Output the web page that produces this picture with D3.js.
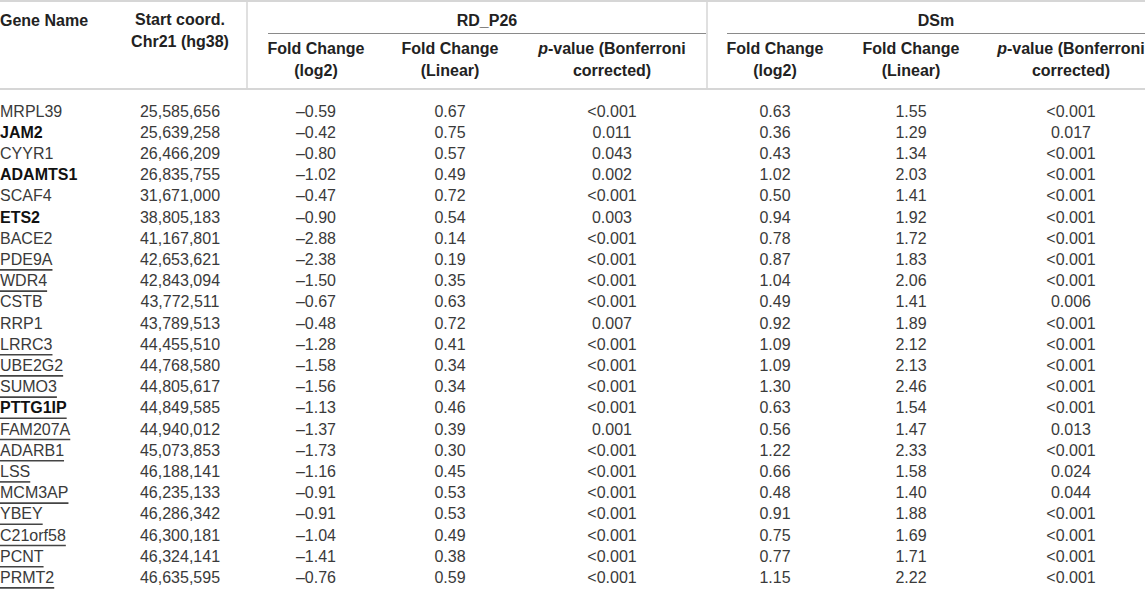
<!DOCTYPE html>
<html>
<head>
<meta charset="utf-8">
<script src="https://cdn.jsdelivr.net/npm/d3@7"></script>
<style>
  body { margin: 0; background: #fff; }
  svg { display: block; font-family: "Liberation Sans", Arial, sans-serif; }
</style>
</head>
<body>
<svg id="tbl" width="1145" height="594"></svg>
<script>
/*
 gene expression table: RD_P26 vs DSm
*/

const genes = ["MRPL39", "JAM2", "CYYR1", "ADAMTS1", "SCAF4", "ETS2", "BACE2", "PDE9A",
    "WDR4", "CSTB", "RRP1", "LRRC3", "UBE2G2", "SUMO3", "PTTG1IP", "FAM207A", "ADARB1",
    "LSS", "MCM3AP", "YBEY", "C21orf58", "PCNT", "PRMT2"];
const startCoords = [25585656, 25639258, 26466209, 26835755, 31671000, 38805183, 41167801,
    42653621, 42843094, 43772511, 43789513, 44455510, 44768580, 44805617, 44849585,
    44940012, 45073853, 46188141, 46235133, 46286342, 46300181, 46324141, 46635595];
const rdLog2 = [-0.59, -0.42, -0.80, -1.02, -0.47, -0.90, -2.88, -2.38, -1.50, -0.67, -0.48,
    -1.28, -1.58, -1.56, -1.13, -1.37, -1.73, -1.16, -0.91, -0.91, -1.04, -1.41, -0.76];
const rdLinear = [0.67, 0.75, 0.57, 0.49, 0.72, 0.54, 0.14, 0.19, 0.35, 0.63, 0.72, 0.41,
    0.34, 0.34, 0.46, 0.39, 0.30, 0.45, 0.53, 0.53, 0.49, 0.38, 0.59];
const rdP = ["<0.001", "0.011", "0.043", "0.002", "<0.001", "0.003", "<0.001", "<0.001",
    "<0.001", "<0.001", "0.007", "<0.001", "<0.001", "<0.001", "<0.001", "0.001", "<0.001",
    "<0.001", "<0.001", "<0.001", "<0.001", "<0.001", "<0.001"];
const dsLog2 = [0.63, 0.36, 0.43, 1.02, 0.50, 0.94, 0.78, 0.87, 1.04, 0.49, 0.92, 1.09, 1.09,
    1.30, 0.63, 0.56, 1.22, 0.66, 0.48, 0.91, 0.75, 0.77, 1.15];
const dsLinear = [1.55, 1.29, 1.34, 2.03, 1.41, 1.92, 1.72, 1.83, 2.06, 1.41, 1.89, 2.12,
    2.13, 2.46, 1.54, 1.47, 2.33, 1.58, 1.40, 1.88, 1.69, 1.71, 2.22];
const dsP = ["<0.001", "0.017", "<0.001", "<0.001", "<0.001", "<0.001", "<0.001", "<0.001",
    "<0.001", "0.006", "<0.001", "<0.001", "<0.001", "<0.001", "<0.001", "0.013", "<0.001",
    "0.024", "0.044", "<0.001", "<0.001", "<0.001", "<0.001"];
const boldGenes = ["JAM2", "ADAMTS1", "ETS2", "PTTG1IP"];
const underlinedGenes = ["PDE9A", "WDR4", "LRRC3", "UBE2G2", "SUMO3", "PTTG1IP", "FAM207A",
    "ADARB1", "LSS", "MCM3AP", "YBEY", "C21orf58", "PCNT", "PRMT2"];

const groups = ["RD_P26", "DSm"];
const subHeaders = [["Fold Change", "(log2)"], ["Fold Change", "(Linear)"], ["p-value (Bonferroni", "corrected)"]];

const W = 1145, H = 594;
const font_size = 16;
const data_color = "#3a3a3a";
const line_light = "#d6d6d6";

const colKeys = ["start", "rdLog2", "rdLinear", "rdP", "dsLog2", "dsLinear", "dsP"];
const xcol = d3.scaleOrdinal()
    .domain(colKeys)
    .range([180, 316, 450, 612, 775, 911, 1071]);
const xgroup = d3.scaleOrdinal()
    .domain(groups)
    .range([[268, 706], [727, 1145]]);
const yrow = d3.scalePoint()
    .domain(genes)
    .range([111, 111 + 21.2 * (genes.length - 1)]);

const fmtCoord = d3.format(",");
const fmt2 = v => d3.format(".2f")(v).replace("−", "–").replace("-", "–");

const rows = genes.map((g, i) => ({
    gene: g,
    start: fmtCoord(startCoords[i]),
    rdLog2: fmt2(rdLog2[i]),
    rdLinear: fmt2(rdLinear[i]),
    rdP: rdP[i],
    dsLog2: fmt2(dsLog2[i]),
    dsLinear: fmt2(dsLinear[i]),
    dsP: dsP[i],
}));

const svg = d3.select("#tbl");

// rules
svg.append("line")
    .attr("x1", 0).attr("x2", W).attr("y1", 1).attr("y2", 1)
    .attr("stroke", line_light).attr("stroke-width", 2);
svg.append("line")
    .attr("x1", 0).attr("x2", W).attr("y1", 89).attr("y2", 89)
    .attr("stroke", line_light).attr("stroke-width", 2);
svg.selectAll("line.vsep")
    .data([247, 707])
    .join("line")
    .attr("class", "vsep")
    .attr("x1", d => d).attr("x2", d => d)
    .attr("y1", 0).attr("y2", 88)
    .attr("stroke", line_light).attr("stroke-width", 1.5);

// header
const hdr = svg.append("g")
    .attr("font-size", font_size)
    .attr("font-weight", "bold")
    .attr("fill", "#222")
    .attr("dominant-baseline", "central");

hdr.append("text").attr("x", 0).attr("y", 20).text("Gene Name");
hdr.append("text").attr("x", xcol("start")).attr("y", 19)
    .attr("text-anchor", "middle").text("Start coord.");
hdr.append("text").attr("x", xcol("start")).attr("y", 41)
    .attr("text-anchor", "middle").text("Chr21 (hg38)");

groups.forEach((grp, gi) => {
    const [x0, x1] = xgroup(grp);
    hdr.append("text")
        .attr("x", (x0 + x1) / 2).attr("y", 20)
        .attr("text-anchor", "middle").text(grp);
    svg.append("line")
        .attr("x1", x0).attr("x2", x1).attr("y1", 33.5).attr("y2", 33.5)
        .attr("stroke", "#8a8a8a").attr("stroke-width", 1.2);
    subHeaders.forEach((lines, si) => {
        const x = xcol(colKeys[1 + gi * 3 + si]);
        lines.forEach((ln, li) => {
            const t = hdr.append("text")
                .attr("x", x).attr("y", 48 + li * 22)
                .attr("text-anchor", "middle");
            if (ln.startsWith("p-")) {
                t.append("tspan").attr("font-style", "italic").text("p");
                t.append("tspan").text(ln.slice(1));
            } else {
                t.text(ln);
            }
        });
    });
});

// body
const body = svg.append("g")
    .attr("font-size", font_size)
    .attr("fill", data_color)
    .attr("dominant-baseline", "central");

const rowg = body.selectAll("g.row")
    .data(rows)
    .join("g")
    .attr("class", "row")
    .attr("transform", d => `translate(0, ${yrow(d.gene)})`);

rowg.append("text")
    .attr("x", 0)
    .attr("font-weight", d => boldGenes.includes(d.gene) ? "bold" : null)
    .attr("fill", d => boldGenes.includes(d.gene) ? "#111" : null)
    .text(d => d.gene)
    .each(function(d) {
        if (!underlinedGenes.includes(d.gene)) return;
        const w = this.getComputedTextLength();
        d3.select(this.parentNode).append("line")
            .attr("x1", 0).attr("x2", w)
            .attr("y1", 10.5).attr("y2", 10.5)
            .attr("stroke", "#444").attr("stroke-width", 1.6);
    });

colKeys.forEach(k => {
    rowg.append("text")
        .attr("x", xcol(k))
        .attr("text-anchor", "middle")
        .text(d => d[k]);
});
</script>
</body>
</html>
